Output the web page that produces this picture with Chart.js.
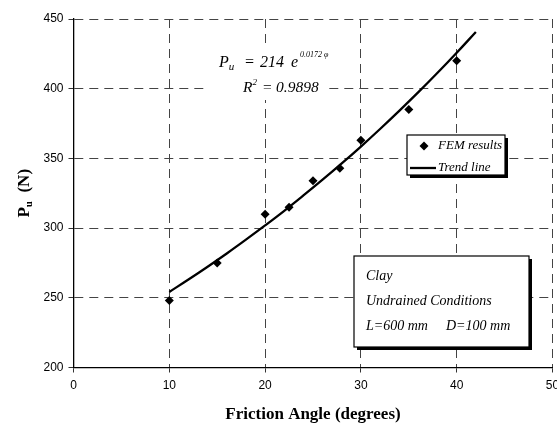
<!DOCTYPE html>
<html>
<head>
<meta charset="utf-8">
<script src="https://cdn.jsdelivr.net/npm/chart.js@4.4.1/dist/chart.umd.min.js"></script>
<style>
  html, body { margin: 0; padding: 0; background: #fff; }
  #wrap { width: 557px; height: 428px; }
</style>
</head>
<body>
<div id="wrap"><canvas id="chart" width="557" height="428"></canvas></div>
<script>
// FEM results (friction angle in degrees, Pu in N)
const femAngles = [10, 15, 20, 22.5, 25, 27.8, 30, 35, 40];
const femLoads = [248, 275, 310, 315, 334, 343, 363, 385, 420];

// Trend line Pu = 214 e^(0.0172 phi)
const trendAngles = [10, 12, 14, 16, 18, 20, 22, 24, 26, 28, 30, 32, 34, 36, 38, 40, 42];
const trendLoads = [254.2, 263.1, 272.3, 281.8, 291.7, 301.9, 312.4, 323.4, 334.7, 346.4, 358.5, 371.1, 384.1, 397.5, 411.4, 425.8, 440.7];

const xTicks = [0, 10, 20, 30, 40, 50];
const yTicks = [200, 250, 300, 350, 400, 450];

const serif = "'Liberation Serif', 'Times New Roman', serif";
const sans = "'Liberation Sans', Arial, sans-serif";

// draw pieces of text one after another (for sub/superscripts)
function drawRuns(ctx, x, y, runs) {
  runs.forEach((r) => {
    ctx.font = r.font;
    if (r.at !== undefined) x = r.at;
    ctx.fillText(r.text, x, y + (r.dy || 0));
    x += ctx.measureText(r.text).width;
  });
}

function shadowBox(ctx, x, y, w, h) {
  ctx.fillStyle = '#000';
  ctx.fillRect(x + 3, y + 3, w, h);
  ctx.fillStyle = '#fff';
  ctx.fillRect(x, y, w, h);
  ctx.strokeStyle = '#000';
  ctx.lineWidth = 1.2;
  ctx.strokeRect(x, y, w, h);
}

const annotations = {
  id: 'annotations',
  beforeDatasetsDraw(chart) {
    const ctx = chart.ctx;
    ctx.save();

    // equation
    ctx.fillStyle = '#fff';
    ctx.fillRect(205, 43, 120, 57);
    ctx.fillStyle = '#000';
    ctx.textBaseline = 'alphabetic';
    const it = (s) => 'italic ' + s + 'px ' + serif;
    drawRuns(ctx, 219, 66.5, [
      { text: 'P', font: it(16) },
      { text: 'u', font: it(11), dy: 3 },
      { text: '=', font: it(16), at: 244 },
      { text: '214', font: it(16), at: 260 },
      { text: 'e', font: it(16), at: 291 },
      { text: '0.0172 \u03C6', font: it(8), dy: -10, at: 300 }
    ]);
    drawRuns(ctx, 243, 91.5, [
      { text: 'R', font: it(15.5) },
      { text: '2', font: it(9), dy: -7 },
      { text: '=', font: it(15.5), at: 262 },
      { text: '0.9898', font: it(15.5), at: 276 }
    ]);

    // legend box
    shadowBox(ctx, 407, 135, 98, 40);
    ctx.fillStyle = '#000';
    ctx.beginPath();
    ctx.moveTo(424, 141.5);
    ctx.lineTo(428.5, 146);
    ctx.lineTo(424, 150.5);
    ctx.lineTo(419.5, 146);
    ctx.closePath();
    ctx.fill();
    ctx.strokeStyle = '#000';
    ctx.lineWidth = 2.3;
    ctx.beginPath();
    ctx.moveTo(410, 168);
    ctx.lineTo(436, 168);
    ctx.stroke();
    ctx.font = it(13);
    ctx.textBaseline = 'middle';
    ctx.fillText('FEM results', 438, 146);
    ctx.fillText('Trend line', 438, 168);

    // conditions box
    shadowBox(ctx, 354, 256, 175, 91);
    ctx.fillStyle = '#000';
    ctx.font = it(14);
    ctx.fillText('Clay', 366, 276);
    ctx.fillText('Undrained Conditions', 366, 301);
    ctx.fillText('L=600 mm', 366, 326);
    ctx.fillText('D=100 mm', 446, 326);

    ctx.restore();
  },
  afterDraw(chart) {
    // y axis title with subscript
    const ctx = chart.ctx;
    const area = chart.chartArea;
    ctx.save();
    ctx.translate(25, (area.top + area.bottom) / 2);
    ctx.rotate(-Math.PI / 2);
    ctx.fillStyle = '#000';
    ctx.textBaseline = 'middle';
    const runs = [
      { text: 'P', font: 'bold 17px ' + serif },
      { text: 'u', font: 'bold 11px ' + serif, dy: 4 },
      { text: '  (N)', font: 'bold 17px ' + serif }
    ];
    let total = 0;
    runs.forEach((r) => { ctx.font = r.font; total += ctx.measureText(r.text).width; });
    drawRuns(ctx, -total / 2, 0, runs);
    ctx.restore();
  }
};

const gridStyle = {
  color: '#444',
  lineWidth: 1,
  tickLength: 5,
  tickColor: '#333',
  tickBorderDash: []
};
const borderStyle = { display: true, color: '#000', width: 1.3, dash: [9, 6] };

new Chart(document.getElementById('chart'), {
  type: 'scatter',
  data: {
    datasets: [
      {
        label: 'FEM results',
        data: femAngles.map((a, i) => ({ x: a, y: femLoads[i] })),
        pointStyle: 'rectRot',
        pointRadius: 4.5,
        backgroundColor: '#000',
        borderColor: '#000',
        borderWidth: 0,
        showLine: false
      },
      {
        label: 'Trend line',
        data: trendAngles.map((a, i) => ({ x: a, y: trendLoads[i] })),
        showLine: true,
        pointRadius: 0,
        borderColor: '#000',
        borderWidth: 2.3,
        tension: 0.4,
        fill: false
      }
    ]
  },
  options: {
    responsive: false,
    animation: false,
    devicePixelRatio: 1,
    layout: { padding: { top: 19, right: 2, left: 0, bottom: 0 } },
    plugins: {
      legend: { display: false },
      tooltip: { enabled: false }
    },
    scales: {
      x: {
        type: 'linear',
        min: 0,
        max: 50,
        afterBuildTicks: (s) => { s.ticks = xTicks.map((v) => ({ value: v })); },
        afterFit: (s) => { s.height = 60.5; s.paddingLeft = 0; s.paddingRight = 0; },
        grid: gridStyle,
        border: borderStyle,
        ticks: { color: '#000', font: { family: sans, size: 12 }, padding: 6, maxRotation: 0, autoSkip: false },
        title: {
          display: true,
          text: 'Friction Angle (degrees)',
          color: '#000',
          font: { family: serif, size: 17, weight: 'bold' },
          padding: { top: 0, bottom: 3 }
        }
      },
      y: {
        type: 'linear',
        min: 200,
        max: 450,
        afterBuildTicks: (s) => { s.ticks = yTicks.map((v) => ({ value: v })); },
        afterFit: (s) => { s.width = 73.5; s.paddingTop = 0; s.paddingBottom = 0; },
        grid: gridStyle,
        border: borderStyle,
        ticks: { color: '#000', font: { family: sans, size: 12 }, padding: 5, autoSkip: false }
      }
    }
  },
  plugins: [annotations]
});
</script>
</body>
</html>
